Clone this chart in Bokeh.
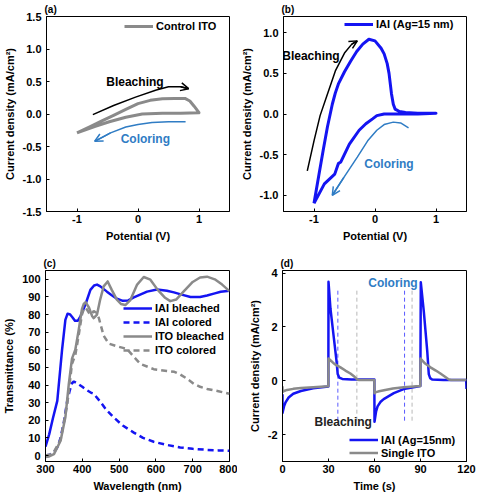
from bokeh.plotting import figure
from bokeh.layouts import row, column
from bokeh.models import Range1d, FixedTicker, Legend, LegendItem, Label, Arrow, OpenHead
from bokeh.embed import file_html
from bokeh.resources import INLINE

FONT = "Liberation Sans"
BLUE = "#1414f2"
GRAY = "#8a8a8a"
CBLUE = "#2f7cc4"

# ---------------- (a) Control ITO CV ----------------
a_x = [-1.0, -0.8, -0.6, -0.4, -0.2, 0.0, 0.2, 0.4, 0.6, 0.77, 0.85, 0.92, 1.0,
       0.7, 0.4, 0.07, -0.2, -0.47, -0.7, -1.0]
a_y = [-0.29, -0.2, -0.11, -0.02, 0.07, 0.16, 0.21, 0.235, 0.24, 0.24, 0.2, 0.12, 0.02,
       0.01, 0.01, 0.0, -0.05, -0.12, -0.19, -0.29]
a_bleach_x = [-0.74, -0.4, -0.04, 0.3, 0.5, 0.7, 0.83]
a_bleach_y = [-0.01, 0.13, 0.26, 0.37, 0.42, 0.42, 0.39]
a_color_x = [0.78, 0.5, 0.23, 0.0, -0.2, -0.45, -0.71]
a_color_y = [-0.12, -0.12, -0.13, -0.16, -0.2, -0.29, -0.42]
a_xticks = [-1, 0, 1]
a_xlabels = ["-1", "0", "1"]
a_yticks = [-1.5, -1.0, -0.5, 0.0, 0.5, 1.0, 1.5]
a_ylabels = ["-1.5", "-1.0", "-0.5", "0.0", "0.5", "1.0", "1.5"]

# ---------------- (b) IAI CV ----------------
b_x = [-1.0, -0.92, -0.85, -0.78, -0.7, -0.65, -0.6, -0.5, -0.4, -0.3, -0.2, -0.1, 0.0, 0.1,
       0.15, 0.2, 0.23, 0.27, 0.3, 0.33, 0.4, 0.5, 0.7, 1.0,
       0.7, 0.4, 0.15, 0.03, -0.04, -0.15, -0.26, -0.42, -0.56, -0.6, -0.66, -0.83, -1.0]
b_y = [-1.1, -0.75, -0.45, -0.16, 0.12, 0.26, 0.37, 0.52, 0.65, 0.77, 0.86, 0.92, 0.9, 0.81,
       0.74, 0.62, 0.5, 0.25, 0.12, 0.06, 0.03, 0.02, 0.01, 0.01,
       0.0, 0.0, 0.0, -0.02, -0.06, -0.12, -0.2, -0.37, -0.59, -0.61, -0.74, -0.86, -1.1]
b_bleach_x = [-1.11, -1.0, -0.9, -0.8, -0.65, -0.5, -0.38, -0.29]
b_bleach_y = [-0.7, -0.33, -0.02, 0.2, 0.53, 0.75, 0.86, 0.9]
b_color_x = [0.55, 0.42, 0.3, 0.15, 0.03, -0.12, -0.29, -0.51, -0.7]
b_color_y = [-0.17, -0.11, -0.1, -0.13, -0.2, -0.33, -0.53, -0.78, -1.0]
b_yticks = [-1.0, -0.5, 0.0, 0.5, 1.0]
b_ylabels = ["-1.0", "-0.5", "0.0", "0.5", "1.0"]

# ---------------- (c) Transmittance ----------------
c_wl_iai_b = [300, 310, 320, 332, 345, 354, 360, 367, 373, 380, 388, 395, 409, 422, 432, 440,
              449, 467, 480, 494, 510, 525, 540, 576, 603, 630, 649, 670, 694, 720, 739, 760,
              776, 800]
c_iai_b = [5, 12, 21, 31, 60, 77, 80.5, 80, 78.5, 76.5, 76.5, 79, 86, 94, 96.5, 97,
           96, 93, 91, 89, 87.8, 88, 89.7, 93, 94.2, 93.5, 92.6, 91.3, 90, 90, 90.8, 92,
           92.9, 93.5]
c_wl_iai_c = [300, 312, 323, 333, 341, 350, 359, 366, 372, 377, 386, 400, 413, 425, 431, 449,
              465, 485, 510, 540, 565, 594, 630, 666, 700, 739, 770, 800]
c_iai_c = [0, 0.5, 1.7, 5, 10, 19, 31, 37, 41, 42, 41, 39, 37, 35.5, 35, 30.5,
           26, 21.7, 17, 13, 10, 7.8, 6, 4.6, 3.8, 3.2, 2.9, 2.7]
c_wl_ito_b = [300, 310, 323, 341, 354, 363, 372, 381, 390, 399, 404, 409, 418, 427, 431, 440,
              448, 458, 469, 480, 494, 505, 517, 530, 549, 567, 585, 605, 625, 639, 655, 675,
              700, 720, 739, 760, 780, 800]
c_ito_b = [-0.8, -0.5, 0.8, 8.4, 21.7, 40, 55, 60, 71, 83, 86, 87, 84, 79, 78, 80,
           88, 96, 98.8, 94, 88.5, 86, 85.4, 88, 97, 101.3, 99.8, 94, 89.5, 87.6, 88.5, 93,
           98.5, 101, 101.5, 100, 97, 93.3]
c_wl_ito_c = [300, 320, 341, 359, 372, 381, 390, 399, 404, 409, 418, 425, 431, 438, 445, 458,
              472, 494, 521, 540, 558, 594, 630, 650, 666, 685, 703, 720, 739, 770, 800]
c_ito_c = [0, 1, 9, 29, 52, 57, 68, 80, 83, 84, 81, 80, 82, 81, 78, 68,
           63.5, 62, 60.5, 56, 52, 49, 48, 47.5, 46, 43.5, 40.7, 39, 37.8, 36.5, 35]
c_xticks = [300, 400, 500, 600, 700, 800]
c_yticks = [0, 10, 20, 30, 40, 50, 60, 70, 80, 90, 100]

# ---------------- (d) Chronoamperometry ----------------
d_t_iai = [0, 0, 1, 2, 4, 7, 12, 20, 29.9, 30, 31.3, 33.5, 35.2, 36, 37, 39, 45, 59.9,
           60, 61, 62, 64, 66, 72.6, 79, 89.9, 90.2, 92.2, 94.4, 95.4, 96.3, 97.6, 105,
           119.8, 120]
d_iai = [-0.5, -1.2, -0.95, -0.8, -0.62, -0.48, -0.38, -0.28, -0.21, 3.68, 2.67, 1.59,
         0.75, 0.25, 0.12, 0.07, 0.05, 0.05, -1.52, -1.15, -0.95, -0.78, -0.68, -0.46,
         -0.31, -0.19, 3.66, 2.55, 1.1, 0.25, 0.1, 0.05, 0.03, 0.03, -0.3]
d_t_ito = [0, 0, 1, 3, 7, 12, 20, 29.9, 30, 34, 37.8, 41, 44.3, 47, 48.7, 50, 59.9,
           60, 61, 63, 67, 72, 79, 89.9, 90, 93, 96.5, 100, 103, 106, 108.5, 110, 120]
d_ito = [-0.2, -0.42, -0.38, -0.34, -0.3, -0.27, -0.24, -0.2, 0.83, 0.62, 0.5, 0.38,
         0.27, 0.15, 0.05, 0.03, 0.03, -0.46, -0.42, -0.39, -0.34, -0.29, -0.24, -0.19,
         0.83, 0.64, 0.5, 0.38, 0.27, 0.15, 0.05, 0.03, 0.03]
d_vline_iai = [36.1, 79.6]
d_vline_ito = [48.5, 84.5]
d_vline_top = 3.35
d_vline_bot = -1.5
d_xticks = [0, 30, 60, 90, 120]
d_yticks = [-2, 0, 2, 4]


def make_fig(w, h, xr, yr, bl, br, bt, bb, title):
    p = figure(width=w, height=h, x_range=Range1d(*xr), y_range=Range1d(*yr),
               output_backend="svg", toolbar_location=None,
               min_border_left=bl, min_border_right=br, min_border_top=bt,
               min_border_bottom=bb, title=title)
    p.title.text_font = FONT
    p.title.text_font_style = "bold"
    p.title.text_font_size = "10px"
    p.title.text_color = "black"
    p.title.align = "left"
    p.title.offset = -2
    p.title.standoff = 3
    p.xgrid.visible = False
    p.ygrid.visible = False
    p.outline_line_color = "black"
    p.outline_line_width = 1
    p.background_fill_color = "white"
    p.border_fill_color = "white"
    for ax in (p.xaxis[0], p.yaxis[0]):
        ax.axis_line_color = "black"
        ax.major_tick_in = 3
        ax.major_tick_out = 0
        ax.minor_tick_in = 0
        ax.minor_tick_out = 0
        ax.major_tick_line_color = "black"
        ax.major_label_text_font = FONT
        ax.major_label_text_font_style = "bold"
        ax.major_label_text_font_size = "11px"
        ax.major_label_text_color = "black"
        ax.axis_label_text_font = FONT
        ax.axis_label_text_font_style = "bold"
        ax.axis_label_text_font_size = "11px"
        ax.axis_label_text_color = "black"
        ax.axis_label_standoff = 4
    p.xaxis[0].major_label_standoff = 3
    p.yaxis[0].major_label_standoff = 5
    return p


def set_ticks(axis, ticks, labels=None):
    axis.ticker = FixedTicker(ticks=ticks)
    if labels is None:
        labels = [str(t) for t in ticks]
    axis.major_label_overrides = {t: l for t, l in zip(ticks, labels)}


def note(p, x, y, txt, color):
    p.add_layout(Label(x=x, y=y, text=txt, text_font=FONT, text_font_style="bold",
                       text_font_size="12px", text_color=color, text_align="center",
                       text_baseline="middle"))


def curved_arrow(p, xs, ys, color, lw=1.5):
    p.line(xs, ys, line_color=color, line_width=lw)
    p.add_layout(Arrow(end=OpenHead(size=8, line_color=color, line_width=lw),
                       x_start=xs[-2], y_start=ys[-2], x_end=xs[-1], y_end=ys[-1],
                       line_color=color, line_width=lw))


def make_legend(p, items, loc, gw=29, gh=14, sp=0):
    lg = Legend(items=items, location=loc, padding=0, margin=0, spacing=sp,
                glyph_width=gw, glyph_height=gh, label_height=gh, label_standoff=3,
                label_text_font=FONT, label_text_font_style="bold",
                label_text_font_size="11px", label_text_color="black",
                border_line_alpha=0, background_fill_alpha=0)
    p.add_layout(lg)


# ---- (a)
pa = make_fig(237, 250, (-1.5, 1.5), (-1.5, 1.5), 45, 8, 16, 38, "(a)")
ra = pa.line(a_x, a_y, line_color=GRAY, line_width=3, line_join="round")
curved_arrow(pa, a_bleach_x, a_bleach_y, "black")
curved_arrow(pa, a_color_x, a_color_y, CBLUE)
note(pa, -0.05, 0.49, "Bleaching", "black")
note(pa, 0.12, -0.38, "Coloring", CBLUE)
set_ticks(pa.xaxis[0], a_xticks, a_xlabels)
set_ticks(pa.yaxis[0], a_yticks, a_ylabels)
pa.xaxis[0].axis_label = "Potential (V)"
pa.yaxis[0].axis_label = "Current density (mA/cm²)"
make_legend(pa, [LegendItem(label="Control ITO", renderers=[ra])], (78, 178))

# ---- (b)
pb = make_fig(240, 250, (-1.5, 1.5), (-1.2, 1.2), 45, 11, 16, 39, "(b)")
rb = pb.line(b_x, b_y, line_color=BLUE, line_width=3, line_join="round")
curved_arrow(pb, b_bleach_x, b_bleach_y, "black")
curved_arrow(pb, b_color_x, b_color_y, CBLUE)
note(pb, -1.05, 0.71, "Bleaching", "black")
note(pb, 0.23, -0.61, "Coloring", CBLUE)
set_ticks(pb.xaxis[0], a_xticks, a_xlabels)
set_ticks(pb.yaxis[0], b_yticks, b_ylabels)
pb.xaxis[0].axis_label = "Potential (V)"
pb.yaxis[0].axis_label = "Current density (mA/cm²)"
make_legend(pb, [LegendItem(label="IAI (Ag=15 nm)", renderers=[rb])], (61, 180))

# ---- (c)
pc = make_fig(237, 250, (300, 800), (-3.4, 105), 45, 8, 20, 39, "(c)")
r1 = pc.line(c_wl_iai_b, c_iai_b, line_color=BLUE, line_width=2.5, line_join="round")
r2 = pc.line(c_wl_iai_c, c_iai_c, line_color=BLUE, line_width=2.5, line_dash="6 4")
r3 = pc.line(c_wl_ito_b, c_ito_b, line_color=GRAY, line_width=2.5, line_join="round")
r4 = pc.line(c_wl_ito_c, c_ito_c, line_color=GRAY, line_width=2.5, line_dash="6 4")
set_ticks(pc.xaxis[0], c_xticks)
set_ticks(pc.yaxis[0], c_yticks)
pc.xaxis[0].axis_label = "Wavelength (nm)"
pc.yaxis[0].axis_label = "Transmittance (%)"
make_legend(pc, [LegendItem(label="IAI bleached", renderers=[r1]),
                 LegendItem(label="IAI colored", renderers=[r2]),
                 LegendItem(label="ITO bleached", renderers=[r3]),
                 LegendItem(label="ITO colored", renderers=[r4])], (78, 104), gh=14, sp=0)

# ---- (d)
pd_ = make_fig(240, 250, (0, 120), (-3, 4.1), 45, 11, 16, 38, "(d)")
pd_.segment(x0=d_vline_iai, x1=d_vline_iai, y0=[d_vline_top] * 2, y1=[d_vline_bot] * 2,
            line_color="#5a5aff", line_width=1, line_dash="4 3")
pd_.segment(x0=d_vline_ito, x1=d_vline_ito, y0=[d_vline_top] * 2, y1=[d_vline_bot] * 2,
            line_color="#b8b8b8", line_width=1, line_dash="4 3")
rd1 = pd_.line(d_t_iai, d_iai, line_color=BLUE, line_width=2.5, line_join="round")
rd2 = pd_.line(d_t_ito, d_ito, line_color=GRAY, line_width=2.5, line_join="round")
note(pd_, 72, 3.63, "Coloring", CBLUE)
note(pd_, 39.6, -1.54, "Bleaching", "#222222")
set_ticks(pd_.xaxis[0], d_xticks)
set_ticks(pd_.yaxis[0], d_yticks)
pd_.xaxis[0].axis_label = "Time (s)"
pd_.yaxis[0].axis_label = "Current density (mA/cm²)"
make_legend(pd_, [LegendItem(label="IAI (Ag=15nm)", renderers=[rd1]),
                  LegendItem(label="Single ITO", renderers=[rd2])], (67, 2), gh=13, sp=0)

layout = column(row(pa, pb), row(pc, pd_))

with open("out.html", "w") as f:
    f.write(file_html(layout, INLINE))
